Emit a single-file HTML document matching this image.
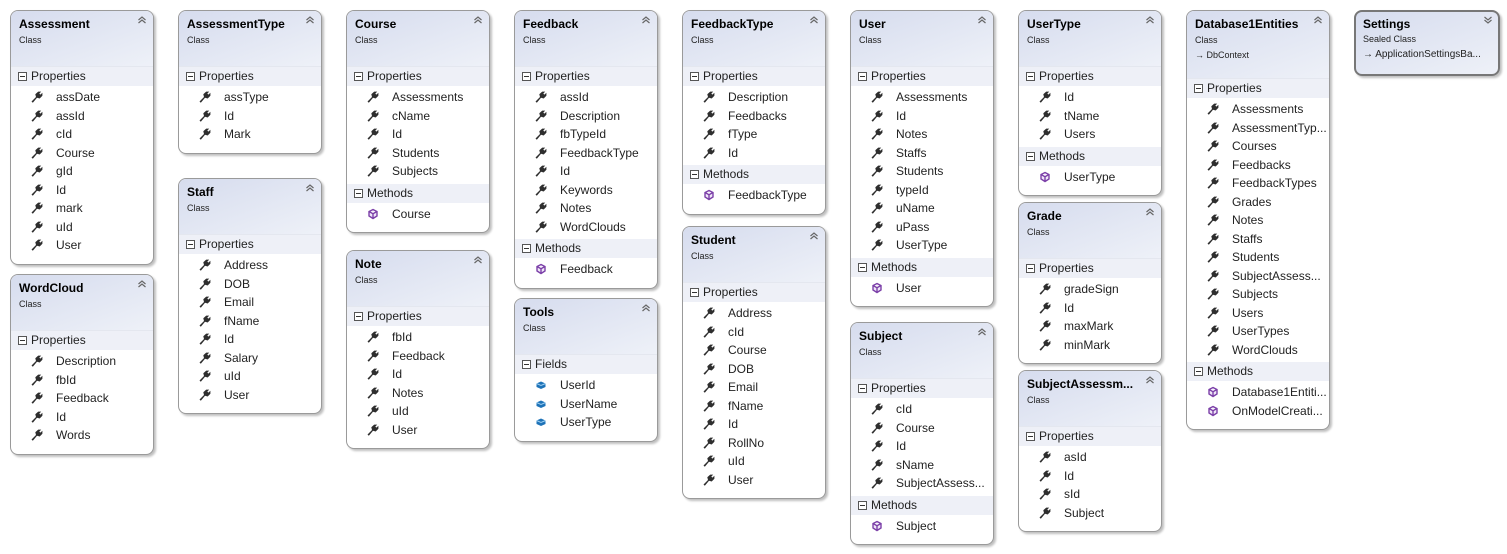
<!DOCTYPE html>
<html><head><meta charset="utf-8"><style>
body{margin:0;width:1507px;height:554px;background:#fff;position:relative;overflow:hidden;font-family:"Liberation Sans","DejaVu Sans",sans-serif;}
.b{position:absolute;width:142px;border:1px solid #9a9a9a;border-radius:8px;background:#fff;box-shadow:2px 2px 2px rgba(0,0,0,0.25);overflow:hidden;padding-bottom:6px;}
.h{height:56px;background:linear-gradient(160deg,#d6dcee 0%,#eef1f8 100%);position:relative;border-bottom:1px solid #e4e7ef;box-sizing:border-box;}
.h.t{height:68px}
.n{position:absolute;left:8px;top:6px;font-weight:bold;font-size:12px;color:#000;white-space:nowrap;}
.k{position:absolute;left:8px;top:24px;font-size:9px;color:#222;}
.k2{position:absolute;left:8px;top:39px;font-size:9px;color:#222;}
.cv{position:absolute;right:6px;top:4px;}
.s{height:19px;line-height:19px;background:#eef0f7;font-size:12px;color:#222;padding-left:20px;position:relative;}
.s:before{content:"";position:absolute;left:7px;top:5px;width:7px;height:7px;border:1px solid #555;background:#fff;}
.s:after{content:"";position:absolute;left:9px;top:9px;width:5px;height:1px;background:#333;}
.l{padding:2px 0 3px 0;}
.i{height:18.5px;line-height:18.5px;font-size:12px;color:#222;padding-left:45px;position:relative;white-space:nowrap;}
.i svg{position:absolute;left:20px;top:3px;}
</style></head><body>
<svg width="0" height="0" style="position:absolute">
<defs>
<symbol id="w" viewBox="0 0 12 12"><path d="M0.5 10.5 L5 6 L4.3 3.3 L7.2 0.6 L10.2 0.6 L8.3 2.6 L9.4 3.6 L11.4 1.8 L11.4 4.8 L8.7 7.5 L6 6.8 L1.8 11.8 Z" fill="#2e2e2e"/></symbol>
<symbol id="m" viewBox="0 0 12 12"><path d="M6 1.5 L10 3.5 L10 8 L6 10.5 L2 8 L2 3.5 Z M2 3.5 L6 5.7 L10 3.5 M6 5.7 L6 10.5" fill="#efe6f7" stroke="#7b3fa8" stroke-width="1.4"/></symbol>
<symbol id="f" viewBox="0 0 12 12"><path d="M1.5 4.5 L6 2.5 L10.5 4.5 L10.5 8 L6 10 L1.5 8 Z" fill="#1e73b8"/><path d="M1.5 4.5 L6 6.5 L10.5 4.5" stroke="#9fd0f2" fill="none"/></symbol>
<symbol id="c" viewBox="0 0 10 10"><path d="M1.5 5 L5 2 L8.5 5 M1.5 8 L5 5 L8.5 8" fill="none" stroke="#666" stroke-width="1.2"/></symbol>
<symbol id="d" viewBox="0 0 10 10"><path d="M1.5 2 L5 5 L8.5 2 M1.5 5 L5 8 L8.5 5" fill="none" stroke="#666" stroke-width="1.2"/></symbol>
</defs></svg>

<div class="b" style="left:10px;top:10px"><div class="h"><div class="n">Assessment</div><div class="k">Class</div><svg class="cv" width="10" height="10"><use href="#c"/></svg></div>
<div class="s">Properties</div><div class="l">
<div class="i"><svg width="12" height="12"><use href="#w"/></svg>assDate</div>
<div class="i"><svg width="12" height="12"><use href="#w"/></svg>assId</div>
<div class="i"><svg width="12" height="12"><use href="#w"/></svg>cId</div>
<div class="i"><svg width="12" height="12"><use href="#w"/></svg>Course</div>
<div class="i"><svg width="12" height="12"><use href="#w"/></svg>gId</div>
<div class="i"><svg width="12" height="12"><use href="#w"/></svg>Id</div>
<div class="i"><svg width="12" height="12"><use href="#w"/></svg>mark</div>
<div class="i"><svg width="12" height="12"><use href="#w"/></svg>uId</div>
<div class="i"><svg width="12" height="12"><use href="#w"/></svg>User</div></div></div>

<div class="b" style="left:10px;top:274px"><div class="h"><div class="n">WordCloud</div><div class="k">Class</div><svg class="cv" width="10" height="10"><use href="#c"/></svg></div>
<div class="s">Properties</div><div class="l">
<div class="i"><svg width="12" height="12"><use href="#w"/></svg>Description</div>
<div class="i"><svg width="12" height="12"><use href="#w"/></svg>fbId</div>
<div class="i"><svg width="12" height="12"><use href="#w"/></svg>Feedback</div>
<div class="i"><svg width="12" height="12"><use href="#w"/></svg>Id</div>
<div class="i"><svg width="12" height="12"><use href="#w"/></svg>Words</div></div></div>

<div class="b" style="left:178px;top:10px"><div class="h"><div class="n">AssessmentType</div><div class="k">Class</div><svg class="cv" width="10" height="10"><use href="#c"/></svg></div>
<div class="s">Properties</div><div class="l">
<div class="i"><svg width="12" height="12"><use href="#w"/></svg>assType</div>
<div class="i"><svg width="12" height="12"><use href="#w"/></svg>Id</div>
<div class="i"><svg width="12" height="12"><use href="#w"/></svg>Mark</div></div></div>

<div class="b" style="left:178px;top:178px"><div class="h"><div class="n">Staff</div><div class="k">Class</div><svg class="cv" width="10" height="10"><use href="#c"/></svg></div>
<div class="s">Properties</div><div class="l">
<div class="i"><svg width="12" height="12"><use href="#w"/></svg>Address</div>
<div class="i"><svg width="12" height="12"><use href="#w"/></svg>DOB</div>
<div class="i"><svg width="12" height="12"><use href="#w"/></svg>Email</div>
<div class="i"><svg width="12" height="12"><use href="#w"/></svg>fName</div>
<div class="i"><svg width="12" height="12"><use href="#w"/></svg>Id</div>
<div class="i"><svg width="12" height="12"><use href="#w"/></svg>Salary</div>
<div class="i"><svg width="12" height="12"><use href="#w"/></svg>uId</div>
<div class="i"><svg width="12" height="12"><use href="#w"/></svg>User</div></div></div>

<div class="b" style="left:346px;top:10px"><div class="h"><div class="n">Course</div><div class="k">Class</div><svg class="cv" width="10" height="10"><use href="#c"/></svg></div>
<div class="s">Properties</div><div class="l">
<div class="i"><svg width="12" height="12"><use href="#w"/></svg>Assessments</div>
<div class="i"><svg width="12" height="12"><use href="#w"/></svg>cName</div>
<div class="i"><svg width="12" height="12"><use href="#w"/></svg>Id</div>
<div class="i"><svg width="12" height="12"><use href="#w"/></svg>Students</div>
<div class="i"><svg width="12" height="12"><use href="#w"/></svg>Subjects</div></div>
<div class="s">Methods</div><div class="l">
<div class="i"><svg width="12" height="12"><use href="#m"/></svg>Course</div></div></div>

<div class="b" style="left:346px;top:250px"><div class="h"><div class="n">Note</div><div class="k">Class</div><svg class="cv" width="10" height="10"><use href="#c"/></svg></div>
<div class="s">Properties</div><div class="l">
<div class="i"><svg width="12" height="12"><use href="#w"/></svg>fbId</div>
<div class="i"><svg width="12" height="12"><use href="#w"/></svg>Feedback</div>
<div class="i"><svg width="12" height="12"><use href="#w"/></svg>Id</div>
<div class="i"><svg width="12" height="12"><use href="#w"/></svg>Notes</div>
<div class="i"><svg width="12" height="12"><use href="#w"/></svg>uId</div>
<div class="i"><svg width="12" height="12"><use href="#w"/></svg>User</div></div></div>

<div class="b" style="left:514px;top:10px"><div class="h"><div class="n">Feedback</div><div class="k">Class</div><svg class="cv" width="10" height="10"><use href="#c"/></svg></div>
<div class="s">Properties</div><div class="l">
<div class="i"><svg width="12" height="12"><use href="#w"/></svg>assId</div>
<div class="i"><svg width="12" height="12"><use href="#w"/></svg>Description</div>
<div class="i"><svg width="12" height="12"><use href="#w"/></svg>fbTypeId</div>
<div class="i"><svg width="12" height="12"><use href="#w"/></svg>FeedbackType</div>
<div class="i"><svg width="12" height="12"><use href="#w"/></svg>Id</div>
<div class="i"><svg width="12" height="12"><use href="#w"/></svg>Keywords</div>
<div class="i"><svg width="12" height="12"><use href="#w"/></svg>Notes</div>
<div class="i"><svg width="12" height="12"><use href="#w"/></svg>WordClouds</div></div>
<div class="s">Methods</div><div class="l">
<div class="i"><svg width="12" height="12"><use href="#m"/></svg>Feedback</div></div></div>

<div class="b" style="left:514px;top:298px"><div class="h"><div class="n">Tools</div><div class="k">Class</div><svg class="cv" width="10" height="10"><use href="#c"/></svg></div>
<div class="s">Fields</div><div class="l">
<div class="i"><svg width="12" height="12"><use href="#f"/></svg>UserId</div>
<div class="i"><svg width="12" height="12"><use href="#f"/></svg>UserName</div>
<div class="i"><svg width="12" height="12"><use href="#f"/></svg>UserType</div></div></div>

<div class="b" style="left:682px;top:10px"><div class="h"><div class="n">FeedbackType</div><div class="k">Class</div><svg class="cv" width="10" height="10"><use href="#c"/></svg></div>
<div class="s">Properties</div><div class="l">
<div class="i"><svg width="12" height="12"><use href="#w"/></svg>Description</div>
<div class="i"><svg width="12" height="12"><use href="#w"/></svg>Feedbacks</div>
<div class="i"><svg width="12" height="12"><use href="#w"/></svg>fType</div>
<div class="i"><svg width="12" height="12"><use href="#w"/></svg>Id</div></div>
<div class="s">Methods</div><div class="l">
<div class="i"><svg width="12" height="12"><use href="#m"/></svg>FeedbackType</div></div></div>

<div class="b" style="left:682px;top:226px"><div class="h"><div class="n">Student</div><div class="k">Class</div><svg class="cv" width="10" height="10"><use href="#c"/></svg></div>
<div class="s">Properties</div><div class="l">
<div class="i"><svg width="12" height="12"><use href="#w"/></svg>Address</div>
<div class="i"><svg width="12" height="12"><use href="#w"/></svg>cId</div>
<div class="i"><svg width="12" height="12"><use href="#w"/></svg>Course</div>
<div class="i"><svg width="12" height="12"><use href="#w"/></svg>DOB</div>
<div class="i"><svg width="12" height="12"><use href="#w"/></svg>Email</div>
<div class="i"><svg width="12" height="12"><use href="#w"/></svg>fName</div>
<div class="i"><svg width="12" height="12"><use href="#w"/></svg>Id</div>
<div class="i"><svg width="12" height="12"><use href="#w"/></svg>RollNo</div>
<div class="i"><svg width="12" height="12"><use href="#w"/></svg>uId</div>
<div class="i"><svg width="12" height="12"><use href="#w"/></svg>User</div></div></div>

<div class="b" style="left:850px;top:10px"><div class="h"><div class="n">User</div><div class="k">Class</div><svg class="cv" width="10" height="10"><use href="#c"/></svg></div>
<div class="s">Properties</div><div class="l">
<div class="i"><svg width="12" height="12"><use href="#w"/></svg>Assessments</div>
<div class="i"><svg width="12" height="12"><use href="#w"/></svg>Id</div>
<div class="i"><svg width="12" height="12"><use href="#w"/></svg>Notes</div>
<div class="i"><svg width="12" height="12"><use href="#w"/></svg>Staffs</div>
<div class="i"><svg width="12" height="12"><use href="#w"/></svg>Students</div>
<div class="i"><svg width="12" height="12"><use href="#w"/></svg>typeId</div>
<div class="i"><svg width="12" height="12"><use href="#w"/></svg>uName</div>
<div class="i"><svg width="12" height="12"><use href="#w"/></svg>uPass</div>
<div class="i"><svg width="12" height="12"><use href="#w"/></svg>UserType</div></div>
<div class="s">Methods</div><div class="l">
<div class="i"><svg width="12" height="12"><use href="#m"/></svg>User</div></div></div>

<div class="b" style="left:850px;top:322px"><div class="h"><div class="n">Subject</div><div class="k">Class</div><svg class="cv" width="10" height="10"><use href="#c"/></svg></div>
<div class="s">Properties</div><div class="l">
<div class="i"><svg width="12" height="12"><use href="#w"/></svg>cId</div>
<div class="i"><svg width="12" height="12"><use href="#w"/></svg>Course</div>
<div class="i"><svg width="12" height="12"><use href="#w"/></svg>Id</div>
<div class="i"><svg width="12" height="12"><use href="#w"/></svg>sName</div>
<div class="i"><svg width="12" height="12"><use href="#w"/></svg>SubjectAssess...</div></div>
<div class="s">Methods</div><div class="l">
<div class="i"><svg width="12" height="12"><use href="#m"/></svg>Subject</div></div></div>

<div class="b" style="left:1018px;top:10px"><div class="h"><div class="n">UserType</div><div class="k">Class</div><svg class="cv" width="10" height="10"><use href="#c"/></svg></div>
<div class="s">Properties</div><div class="l">
<div class="i"><svg width="12" height="12"><use href="#w"/></svg>Id</div>
<div class="i"><svg width="12" height="12"><use href="#w"/></svg>tName</div>
<div class="i"><svg width="12" height="12"><use href="#w"/></svg>Users</div></div>
<div class="s">Methods</div><div class="l">
<div class="i"><svg width="12" height="12"><use href="#m"/></svg>UserType</div></div></div>

<div class="b" style="left:1018px;top:202px"><div class="h"><div class="n">Grade</div><div class="k">Class</div><svg class="cv" width="10" height="10"><use href="#c"/></svg></div>
<div class="s">Properties</div><div class="l">
<div class="i"><svg width="12" height="12"><use href="#w"/></svg>gradeSign</div>
<div class="i"><svg width="12" height="12"><use href="#w"/></svg>Id</div>
<div class="i"><svg width="12" height="12"><use href="#w"/></svg>maxMark</div>
<div class="i"><svg width="12" height="12"><use href="#w"/></svg>minMark</div></div></div>

<div class="b" style="left:1018px;top:370px"><div class="h"><div class="n">SubjectAssessm...</div><div class="k">Class</div><svg class="cv" width="10" height="10"><use href="#c"/></svg></div>
<div class="s">Properties</div><div class="l">
<div class="i"><svg width="12" height="12"><use href="#w"/></svg>asId</div>
<div class="i"><svg width="12" height="12"><use href="#w"/></svg>Id</div>
<div class="i"><svg width="12" height="12"><use href="#w"/></svg>sId</div>
<div class="i"><svg width="12" height="12"><use href="#w"/></svg>Subject</div></div></div>

<div class="b" style="left:1186px;top:10px"><div class="h t"><div class="n">Database1Entities</div><div class="k">Class</div><div class="k2">→ DbContext</div><svg class="cv" width="10" height="10"><use href="#c"/></svg></div>
<div class="s">Properties</div><div class="l">
<div class="i"><svg width="12" height="12"><use href="#w"/></svg>Assessments</div>
<div class="i"><svg width="12" height="12"><use href="#w"/></svg>AssessmentTyp...</div>
<div class="i"><svg width="12" height="12"><use href="#w"/></svg>Courses</div>
<div class="i"><svg width="12" height="12"><use href="#w"/></svg>Feedbacks</div>
<div class="i"><svg width="12" height="12"><use href="#w"/></svg>FeedbackTypes</div>
<div class="i"><svg width="12" height="12"><use href="#w"/></svg>Grades</div>
<div class="i"><svg width="12" height="12"><use href="#w"/></svg>Notes</div>
<div class="i"><svg width="12" height="12"><use href="#w"/></svg>Staffs</div>
<div class="i"><svg width="12" height="12"><use href="#w"/></svg>Students</div>
<div class="i"><svg width="12" height="12"><use href="#w"/></svg>SubjectAssess...</div>
<div class="i"><svg width="12" height="12"><use href="#w"/></svg>Subjects</div>
<div class="i"><svg width="12" height="12"><use href="#w"/></svg>Users</div>
<div class="i"><svg width="12" height="12"><use href="#w"/></svg>UserTypes</div>
<div class="i"><svg width="12" height="12"><use href="#w"/></svg>WordClouds</div></div>
<div class="s">Methods</div><div class="l">
<div class="i"><svg width="12" height="12"><use href="#m"/></svg>Database1Entiti...</div>
<div class="i"><svg width="12" height="12"><use href="#m"/></svg>OnModelCreati...</div></div></div>

<div class="b" style="left:1354px;top:10px;border:2px solid #777;width:142px;height:62px;padding:0;background:linear-gradient(160deg,#d6dcee 0%,#eef1f8 100%)">
<div class="n" style="left:7px;top:5px">Settings</div><div class="k" style="left:7px;top:22px">Sealed Class</div><div class="k2" style="left:7px;top:37px;font-size:10px">→ ApplicationSettingsBa...</div><svg class="cv" width="10" height="10" style="right:5px;top:3px"><use href="#d"/></svg></div>
</body></html>
